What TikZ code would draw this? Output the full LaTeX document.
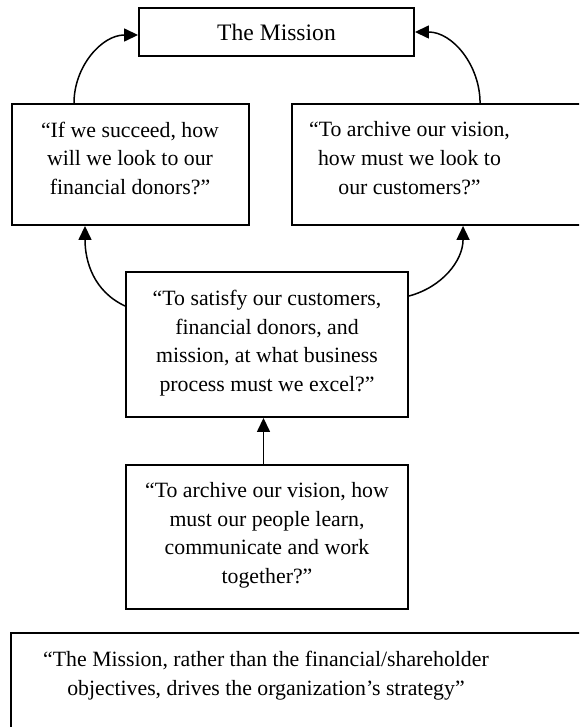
\documentclass[tikz,border=0pt]{standalone}
\usepackage{fontspec}
\setmainfont{Liberation Serif}
\usetikzlibrary{arrows.meta}
\tikzset{
  box/.style={draw, line width=1.9pt, rectangle, inner sep=0pt},
  txt/.style={align=center, inner sep=0pt, anchor=north, font=\fontsize{21.8}{28.7}\selectfont},
  conn/.style={line width=1.5pt, -{Triangle[length=14pt,width=13pt]}}
}
\begin{document}
\begin{tikzpicture}[x=1pt,y=-1pt]
\useasboundingbox (0,0) rectangle (579,727);
\clip (0,0) rectangle (579,727);
% boxes
\node[box, minimum width=275pt, minimum height=48pt] (mis) at (276.5,32) {};
\node[font=\fontsize{23.6}{28}\selectfont, inner sep=0pt] (mist) at (276.5,32) {The Mission};
\node[box, minimum width=237pt, minimum height=121pt] (fin) at (130.5,164.5) {};
\node[txt] (fint) at (130,121.5) {“If we succeed, how\\will we look to our\\financial donors?”};
\node[box, minimum width=328pt, minimum height=121pt] (cus) at (456,164.5) {};
\node[txt] (cust) at (409.5,121.5) {“To archive our vision,\\how must we look to\\our customers?”};
\node[box, minimum width=282pt, minimum height=145pt] (mid) at (267,344.5) {};
\node[txt] (midt) at (267,290) {“To satisfy our customers,\\financial donors, and\\mission, at what business\\process must we excel?”};
\node[box, minimum width=282pt, minimum height=144pt] (ppl) at (267,537) {};
\node[txt] (pplt) at (267,482) {“To archive our vision, how\\must our people learn,\\communicate and work\\together?”};
\node[box, minimum width=640pt, minimum height=160pt] (str) at (331,713) {};
\node[txt] (strt) at (266,651) {“The Mission, rather than the financial/shareholder\\objectives, drives the organization’s strategy”};
% connectors
\draw[conn] ([xshift=-56.5pt]fin.north) to[out=90,in=180] ([yshift=-3pt]mis.west);
\draw[conn] ([xshift=189pt]cus.north west) to[out=90,in=0] ([yshift=0pt]mis.east);
\draw[conn] ([yshift=38.5pt]mid.west) to[out=155,in=-90] ([xshift=-45.5pt]fin.south);
\draw[conn] ([yshift=48.5pt]mid.east) to[out=15,in=-90] ([xshift=172pt]cus.south west);
\draw[conn] ([xshift=-3.5pt]ppl.north) -- ([xshift=-3.5pt]mid.south);
\end{tikzpicture}
\end{document}
